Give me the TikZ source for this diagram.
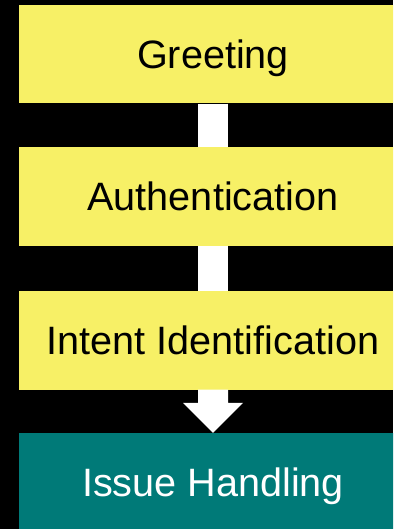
\documentclass[tikz,border=0pt]{standalone}
\usepackage{fontspec}
\setmainfont{Liberation Sans}
\usetikzlibrary{calc}
\definecolor{stepyellow}{HTML}{F7F066}
\definecolor{stepteal}{HTML}{007A78}
\begin{document}
\begin{tikzpicture}[x=1bp,y=-1bp,
  stagebox/.style={rectangle, inner sep=0pt, minimum width=388bp, minimum height=98.5bp,
    text height=28.4bp, text depth=0pt,
    font=\fontsize{39.6bp}{47bp}\selectfont},
  flowbar/.style={white, line width=30bp}]
  \useasboundingbox (0,0) rectangle (393,529);
  \clip (0,0) rectangle (393,529);
  \fill[black] (0,0) rectangle (393,529);

  % the four stages, one under another
  \node[stagebox, fill=stepyellow, text=black] (greet) at (213,54.25)  {Greeting};
  \node[stagebox, fill=stepyellow, text=black] (auth)  at (213,196.25) {Authentication};
  \node[stagebox, fill=stepyellow, text=black] (intent) at (213,340.25) {Intent Identification};
  \node[stagebox, fill=stepteal, text=white]   (issue) at (213,482.25) {Issue Handling};

  % plain bars between the first stages
  \draw[flowbar] (greet.south) -- (auth.north);
  \draw[flowbar] (auth.south) -- (intent.north);

  % block arrow into the last stage
  \fill[white] ($(intent.south)+(-15,0)$) -- ($(intent.south)+(15,0)$)
    -- ($(intent.south)+(15,13.2)$) -- ($(intent.south)+(30,13.2)$)
    -- (issue.north)
    -- ($(intent.south)+(-30,13.2)$) -- ($(intent.south)+(-15,13.2)$) -- cycle;
\end{tikzpicture}
\end{document}
